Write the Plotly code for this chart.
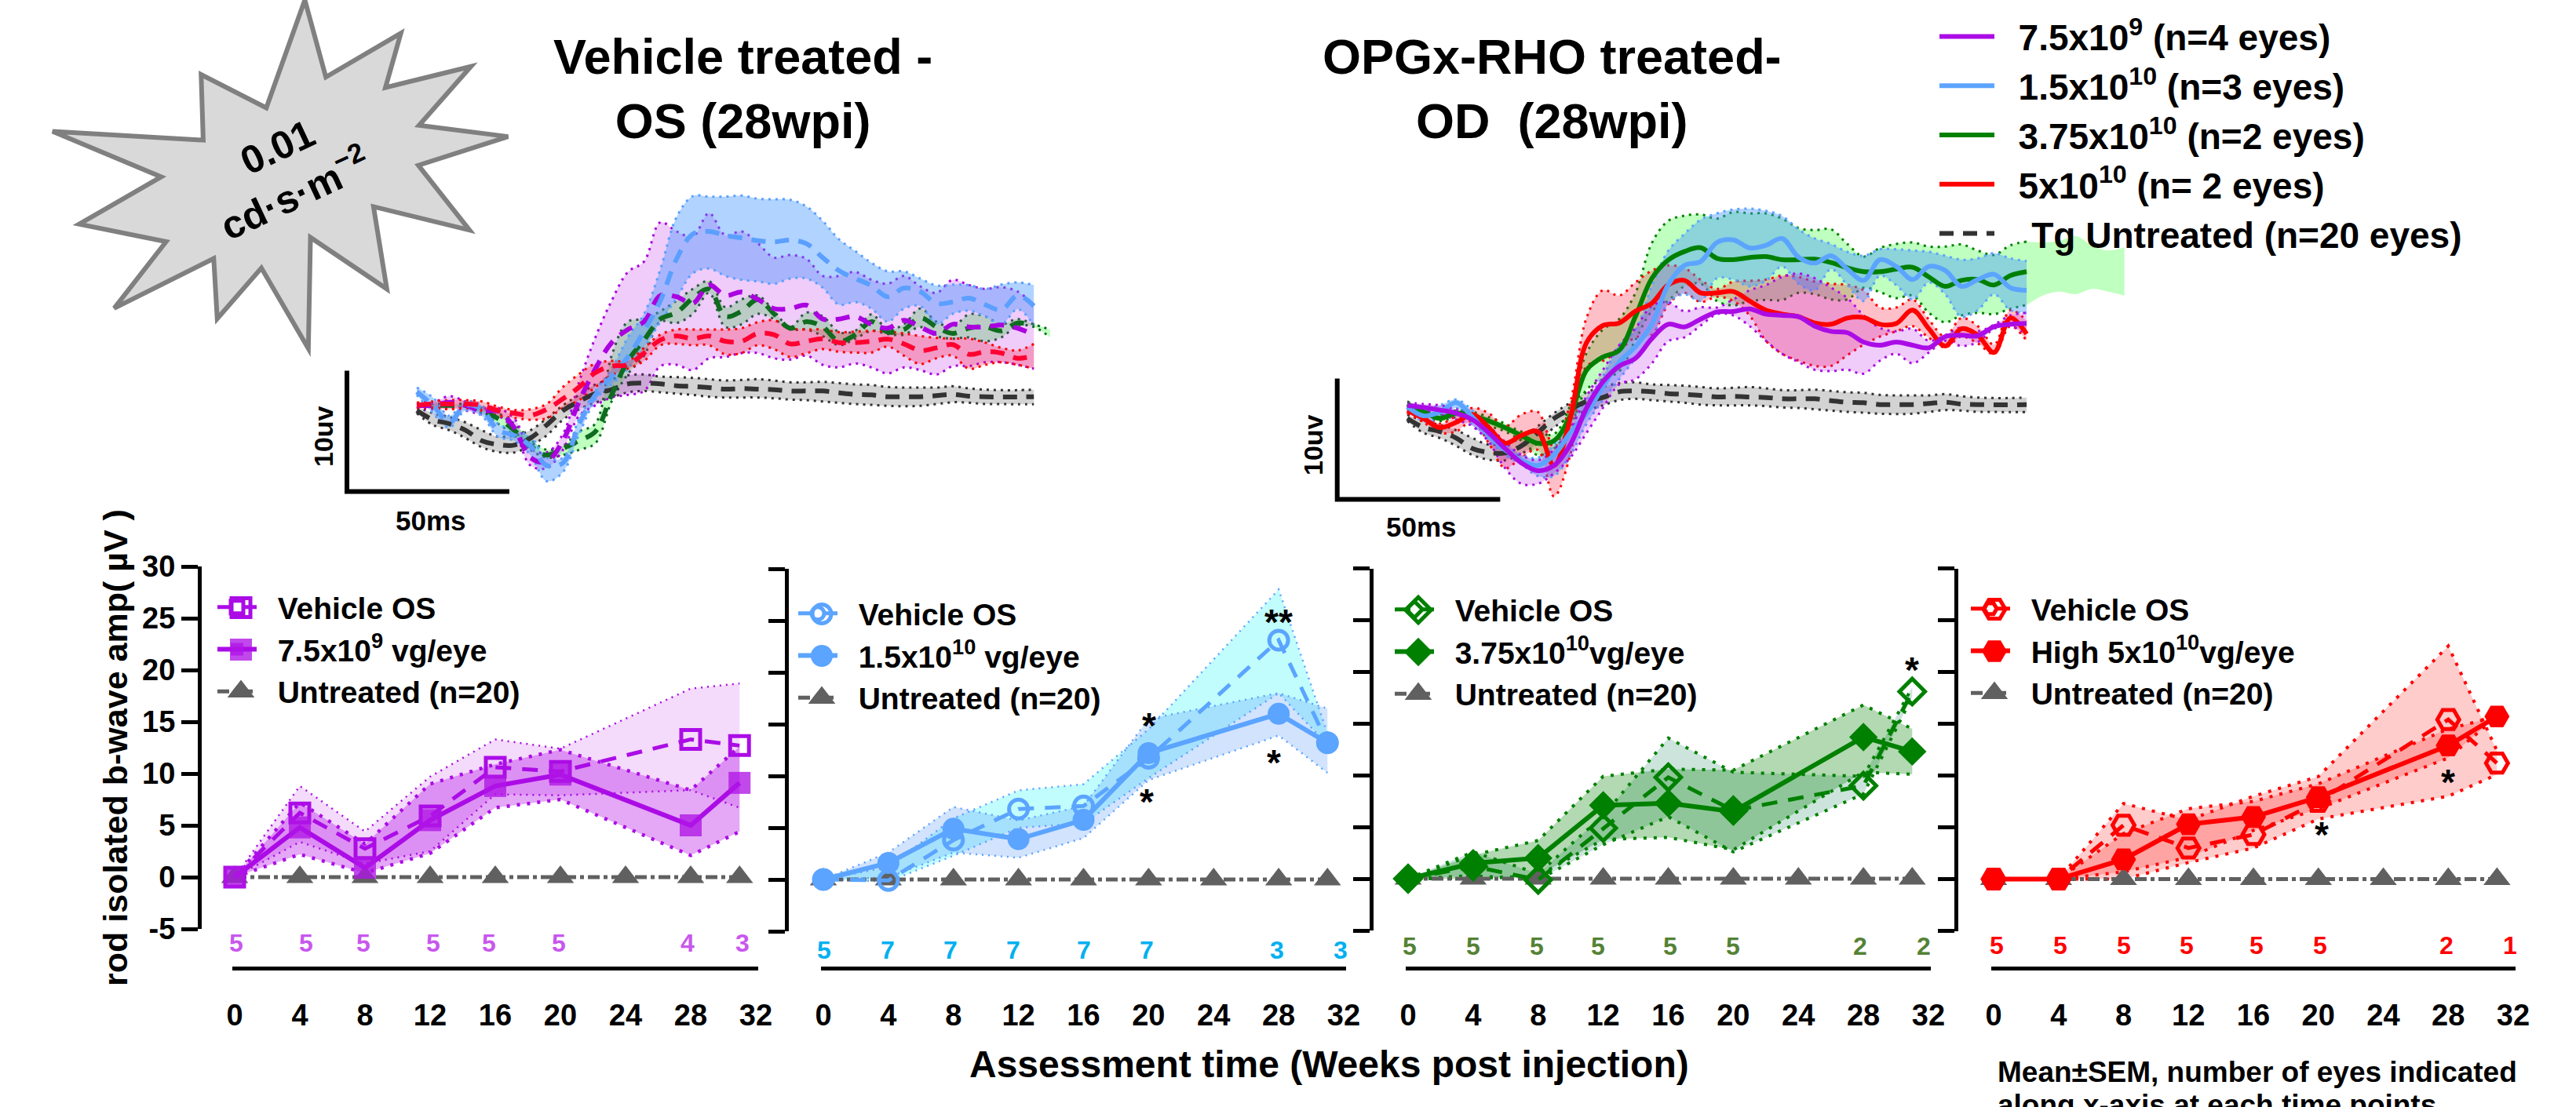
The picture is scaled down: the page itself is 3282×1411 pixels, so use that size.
import numpy as np
import plotly.graph_objects as go

W, H = 3282, 1411
FONT = "Liberation Sans"

# ---------- bottom panels: b-wave amplitude (uV) vs weeks ----------
WEEKS = [0, 4, 8, 12, 16, 20, 28, 31]
UNT_WEEKS = [0, 4, 8, 12, 16, 20, 24, 28, 31]
UNT_VALUES = [0, 0, 0, 0, 0, 0, 0, 0, 0]
X_TICKS = [0, 4, 8, 12, 16, 20, 24, 28, 32]
Y_TICKS = [-5, 0, 5, 10, 15, 20, 25, 30]
Y_TICKTEXT = ["-5", "0", "5", "10", "15", "20", "25", "30"]

P1_VEH = [0, 6.2, 2.75, 5.9, 10.6, 10.2, 13.3, 12.7]
P1_VEH_UP = [0, 8.8, 4.4, 9.7, 13.3, 12.4, 18.2, 18.7]
P1_VEH_LO = [0, 3.4, 1.3, 2.5, 8.0, 7.9, 8.4, 6.7]
P1_TRT = [0, 4.8, 0.9, 5.5, 8.8, 9.9, 5.0, 9.1]
P1_TRT_UP = [0, 7.2, 3.2, 9.0, 10.9, 12.3, 8.4, 12.6]
P1_TRT_LO = [0, 2.2, 0.4, 2.3, 6.7, 7.5, 2.1, 4.4]
P1_N = [5, 5, 5, 5, 5, 5, 4, 3]
P1_N_X = [0.1, 4.4, 7.9, 12.2, 15.6, 19.9, 27.8, 31.2]

P2_VEH = [0, -0.1, 3.8, 6.8, 7.1, 11.7, 23.1, 13.2]
P2_VEH_UP = [0, 1.2, 5.9, 8.6, 9.2, 14.5, 28.0, 14.1]
P2_VEH_LO = [0, -0.2, 2.3, 5.0, 5.4, 9.8, 18.0, 13.0]
P2_TRT = [0, 1.6, 4.9, 3.9, 5.75, 12.2, 16.0, 13.2]
P2_TRT_UP = [0, 2.6, 7.0, 5.7, 7.1, 15.5, 18.0, 16.5]
P2_TRT_LO = [0, 0.2, 2.6, 2.1, 4.0, 9.6, 13.9, 10.3]
P2_N = [5, 7, 7, 7, 7, 7, 3, 3]
P2_N_X = [0.07, 3.94, 7.8, 11.7, 16, 19.9, 27.9, 31.8]

P3_VEH = [0, 1.2, -0.1, 4.9, 9.8, 6.6, 9.0, 18.1]
P3_VEH_UP = [0, 2.6, 0.5, 6.1, 13.6, 10.3, 9.9, 18.5]
P3_VEH_LO = [0, 0.3, -0.1, 3.3, 6.0, 2.6, 8.2, 17.6]
P3_TRT = [0, 1.5, 2.0, 7.1, 7.3, 6.5, 13.7, 12.3]
P3_TRT_UP = [0, 2.3, 3.7, 9.9, 10.6, 10.5, 16.8, 14.5]
P3_TRT_LO = [0, 0.0, 0.3, 3.8, 4.0, 2.8, 10.3, 10.1]
P3_N = [5, 5, 5, 5, 5, 5, 2, 2]
P3_N_X = [0.1, 4, 7.9, 11.7, 16.1, 20, 27.8, 31.7]

P4_VEH = [0, 0, 5.2, 3.0, 4.3, 7.5, 15.4, 11.2]
P4_VEH_UP = [0, 0, 7.3, 5.7, 8.0, 9.9, 22.5, 12.4]
P4_VEH_LO = [0, 0, 0.0, 1.6, 3.0, 5.8, 8.0, 10.1]
P4_TRT = [0, 0, 1.9, 5.3, 6.0, 7.9, 12.9, 15.7]
P4_TRT_UP = [0, 0, 4.4, 6.8, 7.5, 9.2, 14.5, 15.7]
P4_TRT_LO = [0, 0, 0.7, 2.1, 4.7, 6.8, 11.7, 15.7]
P4_N = [5, 5, 5, 5, 5, 5, 2, 1]
P4_N_X = [0.2, 4.1, 8, 11.9, 16.2, 20.1, 27.9, 31.8]

P2_STARS = [(20.05, 15.7, "*"), (19.9, 8.3, "*"), (28.0, 25.7, "**"), (27.7, 12.1, "*")]
P3_STARS = [(31.0, 21.0, "*")]
P4_STARS = [(20.2, 5.1, "*"), (28.0, 10.2, "*")]

# ---------- top panels: ERG traces, amplitude digitised at 46.2 counts per uV, one sample every 5 ms ----------
COUNTS_PER_UV = 46.2
MS_STEP = 5

UNT_M = [-16,-51,-66,-91,-131,-146,-148,-121,-71,-16,19,49,64,86,89,86,79,76,72,66,68,66,64,59,59,59,52,46,44,37,37,37,41,46,39,37,36,36,37]
UNT_U = [-1,-26,-41,-61,-91,-116,-111,-91,-46,4,44,84,104,119,122,114,112,109,104,99,101,104,99,92,92,94,89,84,82,74,72,72,72,77,69,64,62,62,64]
UNT_L = [-26,-71,-91,-121,-156,-174,-176,-151,-111,-51,-11,14,34,54,59,54,49,44,37,34,34,34,31,26,24,19,14,9,6,2,1,2,9,16,14,9,9,8,8]

A_PUR_M = [4,4,16,4,-18,-18,-81,-196,-211,-131,19,144,244,294,324,424,419,394,464,424,437,409,374,374,387,334,334,344,314,299,329,304,279,314,304,304,311,299,274]
A_PUR_U = [9,14,39,19,-6,-6,-46,-161,-176,-106,94,264,404,514,554,704,669,649,739,654,669,624,569,579,564,499,499,514,484,469,499,459,434,484,464,449,456,439,389]
A_PUR_L = [-6,-11,-6,-16,-31,-36,-91,-226,-236,-166,-36,4,34,44,59,154,159,139,184,189,204,204,184,179,194,159,149,164,149,126,149,139,122,154,154,169,169,159,144]
A_BLU_M = [56,4,-61,4,-11,-91,-111,-151,-226,-216,-66,44,114,189,289,404,564,659,669,654,644,634,629,636,622,569,519,489,462,419,452,439,394,399,414,389,369,424,384]
A_BLU_U = [72,34,-36,19,4,-66,-91,-116,-196,-196,-46,59,144,264,354,524,724,804,802,802,806,794,792,790,764,709,639,594,549,516,516,489,462,466,464,449,466,474,464]
A_BLU_L = [44,-26,-81,-16,-36,-116,-131,-186,-286,-251,-106,24,84,144,224,324,414,509,527,499,484,478,469,489,489,454,389,399,374,324,374,384,314,354,366,344,314,372,309]
A_GRN_M = [4,4,4,4,-16,-46,-91,-151,-186,-161,-131,-96,44,174,254,334,359,414,449,344,364,409,354,299,324,304,249,274,324,284,294,339,304,279,299,304,289,319,309]
A_GRN_U = [12,9,9,9,-6,-26,-66,-126,-166,-151,-96,-66,194,324,334,364,404,449,479,379,409,424,364,304,359,344,284,289,352,294,314,374,324,304,352,344,314,334,314,294]
A_GRN_L = [-4,-4,-1,-4,-26,-66,-111,-166,-196,-186,-166,-141,19,124,194,324,319,354,434,304,314,354,334,294,294,269,234,259,289,277,274,304,269,259,264,249,264,309,304,264]
A_RED_M = [4,9,9,9,4,-16,-26,-34,-11,29,74,129,154,159,204,254,269,259,269,249,249,279,274,239,249,259,244,244,249,257,239,214,224,236,199,209,204,184,194]
A_RED_U = [14,19,24,24,19,-1,-14,-11,9,74,124,164,174,174,224,274,294,294,294,294,299,322,329,299,294,294,284,286,289,286,279,269,262,259,259,244,224,214,239]
A_RED_L = [-6,-6,-11,-6,-16,-36,-44,-51,-46,-6,24,74,119,144,174,234,239,234,234,199,204,234,219,189,204,219,209,206,206,229,194,162,184,194,144,159,169,159,144]

B_PUR_M = [34,26,16,4,-21,-71,-131,-186,-216,-196,-116,24,124,184,214,289,344,334,364,391,393,403,383,378,373,337,317,312,276,264,276,264,254,297,302,300,335,344,347]
B_PUR_U = [44,39,34,19,-6,-46,-106,-156,-176,-136,-56,69,169,264,329,414,429,394,409,408,439,474,494,525,538,520,484,444,378,330,317,327,281,302,332,317,342,378,388]
B_PUR_L = [24,14,-1,-21,-46,-106,-206,-266,-266,-226,-166,-71,24,114,134,194,279,294,339,383,378,337,281,231,200,170,165,170,155,205,231,195,236,281,261,276,327,337,307]
B_BLU_M = [29,-6,9,44,-11,-81,-136,-176,-196,-156,-71,4,104,199,259,344,494,569,584,657,667,636,646,672,601,578,606,555,512,591,565,515,565,550,489,515,535,484,474]
B_BLU_U = [39,19,34,56,14,-61,-116,-156,-166,-116,-6,54,144,264,324,489,624,689,744,768,783,786,778,758,707,672,651,621,606,631,631,626,621,606,591,596,616,596,586]
B_BLU_L = [19,-26,-16,24,-41,-101,-156,-191,-236,-236,-156,-36,54,134,214,289,424,459,434,520,515,489,510,565,499,474,555,494,433,530,494,439,504,459,373,398,459,398,388]
B_GRN_M = [39,9,-16,4,-6,-26,-51,-81,-111,-101,-6,169,219,244,374,519,589,622,637,596,591,599,603,591,591,593,580,560,545,545,555,562,525,489,512,515,494,530,545]
B_GRN_U = [49,19,-1,14,9,-11,-36,-66,-71,-76,34,234,324,364,464,654,739,759,764,748,773,768,768,748,712,704,707,651,603,636,651,657,641,641,649,626,609,646,660,657,662,682,646,626,639]
B_GRN_L = [29,-1,-26,-11,-21,-44,-66,-101,-156,-131,-46,94,134,164,284,394,434,489,499,433,416,433,437,437,464,459,439,439,484,467,444,454,388,352,378,388,383,403,418,454,469,459,479,469,454]
B_RED_M = [14,-16,-51,-31,-1,-51,-111,-81,-66,-196,-16,274,339,349,394,424,494,512,464,464,469,433,398,383,373,349,344,368,370,344,347,398,327,261,327,302,236,368,307]
B_RED_U = [24,-1,-36,-6,24,4,-46,-1,9,-126,44,369,474,454,504,549,569,559,514,479,507,510,515,530,525,507,499,494,474,408,408,439,362,297,368,337,266,398,357]
B_RED_L = [4,-31,-71,-66,-26,-111,-206,-166,-136,-314,-156,184,204,244,294,304,419,464,429,449,433,378,281,231,205,185,185,226,266,297,317,337,292,256,297,271,231,337,281]

SCALE_MS = 50
SCALE_UV = 10

STAR_PX = [435,465,572,550,672,598,725,597,670,533,552,443,440,373,310,305,163,237,113,230,75,290,287,380]
STAR_PY = [0,220,95,250,190,358,390,472,657,590,825,678,995,765,910,738,880,690,640,505,375,400,213,308]

# ---------- styles ----------
PURPLE, BLUE, GREEN, RED = "#AB0CE6", "#5BA4FF", "#008000", "#FF0000"
GREY = "#606060"
DARK = "#333333"
GAP = "\u00a0\u00a0"


def fx(p):
    return p / W


def fy(p):
    return 1 - p / H


fig = go.Figure()
annotations = []
layout_axes = {}


def ann(text, px, py, size, color="black", **kw):
    kw.setdefault("xanchor", "center")
    kw.setdefault("yanchor", "middle")
    annotations.append(dict(x=fx(px), y=fy(py), xref="paper", yref="paper", text=text, showarrow=False,
                            font=dict(family=FONT, size=size, color=color, weight=700), **kw))


def band(xa, ya, x, up, lo, fill, dot, width, shape="linear", dash="2px,7px"):
    line = dict(color=dot, width=width, dash=dash, shape=shape)
    fig.add_trace(go.Scatter(x=x, y=up, xaxis=xa, yaxis=ya, mode="lines", line=line, showlegend=False,
                             hoverinfo="skip", cliponaxis=False))
    fig.add_trace(go.Scatter(x=x, y=lo, xaxis=xa, yaxis=ya, mode="lines", line=line, fill="tonexty",
                             fillcolor=fill, showlegend=False, hoverinfo="skip", cliponaxis=False))


PANELS = [
    dict(i=1, axis_px=254, dom=(296, 966), ydom=(722, 1184), color=PURPLE, count="#C857EE",
         veh=(P1_VEH, P1_VEH_UP, P1_VEH_LO), trt=(P1_TRT, P1_TRT_UP, P1_TRT_LO), n=P1_N, nx=P1_N_X, ny=-6.4,
         vfill="rgba(176,0,230,0.14)", tfill="rgba(176,0,230,0.34)", vw=2.5, tw=4.5, vdash="2px,6px", tdash="4px,9px",
         vsym="square-open", tsym="square", vsize=24, tsize=28, tcolor="rgba(176,20,230,0.78)",
         legend_px=(272, 742), stars=[],
         names=("Vehicle OS", "7.5x10<sup>9</sup> vg/eye", "Untreated (n=20)")),
    dict(i=2, axis_px=1002, dom=(1046, 1715), ydom=(725, 1187), color=BLUE, count="#00B0F0",
         veh=(P2_VEH, P2_VEH_UP, P2_VEH_LO), trt=(P2_TRT, P2_TRT_UP, P2_TRT_LO), n=P2_N, nx=P2_N_X, ny=-6.8,
         vfill="rgba(110,250,250,0.42)", tfill="rgba(90,150,250,0.27)", vw=2.5, tw=2.5, vdash="2px,6px", tdash="2px,6px",
         vsym="circle-open", tsym="circle", vsize=24, tsize=28, tcolor=BLUE,
         legend_px=(1012, 750), stars=P2_STARS,
         names=("Vehicle OS", "1.5x10<sup>10</sup> vg/eye", "Untreated (n=20)")),
    dict(i=3, axis_px=1747, dom=(1791, 2460), ydom=(724.5, 1186), color=GREEN, count="#548235",
         veh=(P3_VEH, P3_VEH_UP, P3_VEH_LO), trt=(P3_TRT, P3_TRT_UP, P3_TRT_LO), n=P3_N, nx=P3_N_X, ny=-6.5,
         vfill="rgba(0,120,80,0.2)", tfill="rgba(0,128,0,0.3)", vw=4, tw=4, vdash="4px,9px", tdash="4px,9px",
         vsym="diamond-open", tsym="diamond", vsize=25, tsize=28, tcolor=GREEN,
         legend_px=(1772, 745), stars=P3_STARS,
         names=("Vehicle OS", "3.75x10<sup>10</sup>vg/eye", "Untreated (n=20)")),
    dict(i=4, axis_px=2492, dom=(2537, 3205), ydom=(724.5, 1186.5), color=RED, count="#FF0000",
         veh=(P4_VEH, P4_VEH_UP, P4_VEH_LO), trt=(P4_TRT, P4_TRT_UP, P4_TRT_LO), n=P4_N, nx=P4_N_X, ny=-6.4,
         vfill="rgba(255,0,0,0.2)", tfill="rgba(255,0,0,0.2)", vw=4, tw=4, vdash="4px,9px", tdash="4px,9px",
         vsym="hexagon2-open", tsym="hexagon2", vsize=28, tsize=32, tcolor=RED,
         legend_px=(2506, 744), stars=P4_STARS,
         names=("Vehicle OS", "High 5x10<sup>10</sup>vg/eye", "Untreated (n=20)")),
]

PX_PER_WEEK = 20.72
UNT_SIZE = 30
LEGEND_KEY_DX = 25
LEGEND_ROW_DY = (32.5, 86, 139.5)
for p in PANELS:
    i = p["i"]
    suffix = "" if i == 1 else str(i)
    xa, ya = f"x{suffix}", f"y{suffix}"
    lg = f"legend{suffix}"
    m = 3 / PX_PER_WEEK
    layout_axes[f"xaxis{suffix}"] = dict(
        domain=[fx(p["dom"][0]), fx(p["dom"][1])], range=[-m, 32 + m], anchor="free",
        position=fy(1234), showline=True, linecolor="black", linewidth=5, showgrid=False, zeroline=False,
        tickvals=X_TICKS, ticks="", ticklabelstandoff=24,
        tickfont=dict(family=FONT, size=38, color="black", weight=700))
    yax = dict(
        domain=[fy(p["ydom"][1]), fy(p["ydom"][0])], range=[-5, 30], anchor="free", position=fx(p["axis_px"]),
        showline=True, linecolor="black", linewidth=5, showgrid=False, zeroline=False,
        tickvals=Y_TICKS, ticktext=Y_TICKTEXT, ticks="outside", ticklen=21, tickwidth=5, tickcolor="black",
        showticklabels=i == 1, tickfont=dict(family=FONT, size=38, color="black", weight=700))
    if i == 1:
        yax["title"] = dict(text="rod isolated b-wave amp( \u00b5V )", standoff=4,
                            font=dict(family=FONT, size=43, color="black", weight=700))
    layout_axes[f"yaxis{suffix}"] = yax

    band(xa, ya, WEEKS, p["veh"][1], p["veh"][2], p["vfill"], p["color"], p["vw"], dash=p["vdash"])
    band(xa, ya, WEEKS, p["trt"][1], p["trt"][2], p["tfill"], p["color"], p["tw"], dash=p["tdash"])

    fig.add_trace(go.Scatter(x=UNT_WEEKS, y=UNT_VALUES, xaxis=xa, yaxis=ya, name=GAP + p["names"][2], legend=lg,
                             legendrank=3, mode="lines+markers", cliponaxis=False,
                             line=dict(color=GREY, width=5, dash="dashdot"),
                             marker=dict(symbol="triangle-up", size=UNT_SIZE, color=GREY)))
    veh_marker = dict(symbol=p["vsym"], size=p["vsize"], color=p["color"], line=dict(width=5, color=p["color"]))
    trt_marker = dict(symbol=p["tsym"], size=p["tsize"], color=p["tcolor"])
    fig.add_trace(go.Scatter(x=WEEKS, y=p["veh"][0], xaxis=xa, yaxis=ya, name=GAP + p["names"][0], legend=lg,
                             legendrank=1, mode="lines+markers", cliponaxis=False,
                             line=dict(color=p["color"], width=5, dash="20px,14px"), marker=veh_marker))
    fig.add_trace(go.Scatter(x=WEEKS, y=p["trt"][0], xaxis=xa, yaxis=ya, name=GAP + p["names"][1], legend=lg,
                             legendrank=2, mode="lines+markers", cliponaxis=False,
                             line=dict(color=p["color"], width=6), marker=trt_marker))

    layout_axes[lg] = dict(x=fx(p["legend_px"][0]), y=fy(p["legend_px"][1]), xanchor="left", yanchor="top",
                           bgcolor="rgba(0,0,0,0)", itemwidth=50, traceorder="normal",
                           font=dict(family=FONT, size=39, color="black", weight=700))

    # the legend caps its marker size, so the full-size keys are drawn over its samples
    key_x = (p["legend_px"][0] + LEGEND_KEY_DX + 10 - p["dom"][0]) / PX_PER_WEEK - m
    for dy, marker in zip(LEGEND_ROW_DY, (veh_marker, trt_marker,
                                          dict(symbol="triangle-up", size=UNT_SIZE, color=GREY))):
        key_py = p["legend_px"][1] + dy
        key_y = 30 - (key_py - p["ydom"][0]) / (p["ydom"][1] - p["ydom"][0]) * 35
        fig.add_trace(go.Scatter(x=[key_x], y=[key_y], xaxis=xa, yaxis=ya, mode="markers", marker=marker,
                                 showlegend=False, hoverinfo="skip", cliponaxis=False))

    for n, nx in zip(p["n"], p["nx"]):
        annotations.append(dict(x=nx, y=(p["ny"] + 5) / 35, xref=xa, yref=f"{ya} domain", text=str(n),
                                showarrow=False, xanchor="center", yanchor="middle",
                                font=dict(family=FONT, size=32, color=p["count"], weight=700)))
    for sx, sy, st in p["stars"]:
        annotations.append(dict(x=sx, y=sy, xref=xa, yref=ya, text=st, showarrow=False, yshift=-11,
                                font=dict(family=FONT, size=46, color="black", weight=700)))


def erg(vals):
    return np.array(vals) / COUNTS_PER_UV


def times(vals):
    return np.arange(len(vals)) * MS_STEP


FILLS = dict(unt="rgba(110,110,110,0.3)", pur="rgba(176,0,230,0.2)", blu="rgba(70,150,255,0.42)",
             grn="rgba(0,255,0,0.25)", red="rgba(255,0,40,0.25)")

# top-left panel (dashed means)
layout_axes["xaxis5"] = dict(domain=[fx(420), fx(1345)], range=[(420 - 531) / 4.138, (1345 - 531) / 4.138], visible=False, anchor="y5")
layout_axes["yaxis5"] = dict(domain=[fy(640), fy(240)], range=[(518 - 640) / 15.4, (518 - 240) / 15.4], visible=False, anchor="x5")
# top-right panel (solid means)
layout_axes["xaxis6"] = dict(domain=[fx(1680), fx(2720)], range=[(1680 - 1793) / 4.153, (2720 - 1793) / 4.153], visible=False, anchor="y6")
layout_axes["yaxis6"] = dict(domain=[fy(650), fy(240)], range=[(528 - 650) / 15.4, (528 - 240) / 15.4], visible=False, anchor="x6")

for xa, ya, sets in [
    ("x5", "y5", [("unt", UNT_U, UNT_L, "#333333"),
                  ("grn", A_GRN_U, A_GRN_L, "#0F6B1F"),
                  ("pur", A_PUR_U, A_PUR_L, "#AB00E0"),
                  ("blu", A_BLU_U, A_BLU_L, "#5B9FFF"),
                  ("red", A_RED_U, A_RED_L, "#FF0000")]),
    ("x6", "y6", [("unt", UNT_U, UNT_L, "#333333"),
                  ("grn", B_GRN_U, B_GRN_L, GREEN),
                  ("red", B_RED_U, B_RED_L, RED),
                  ("blu", B_BLU_U, B_BLU_L, BLUE),
                  ("pur", B_PUR_U, B_PUR_L, PURPLE)]),
]:
    for key, up, lo, dotc in sets:
        if len(up) == 45:  # the green band of the right panel runs past the end of its mean trace
            t = times(up)
            band(xa, ya, t[:39], erg(up[:39]), erg(lo[:39]), FILLS[key], dotc, 3, shape="spline", dash="3px,6px")
            fig.add_trace(go.Scatter(x=t[38:], y=erg(up[38:]), xaxis=xa, yaxis=ya, mode="lines",
                                     line=dict(width=0, shape="spline"), showlegend=False, hoverinfo="skip"))
            fig.add_trace(go.Scatter(x=t[38:], y=erg(lo[38:]), xaxis=xa, yaxis=ya, mode="lines",
                                     line=dict(width=0, shape="spline"), fill="tonexty", fillcolor=FILLS[key],
                                     showlegend=False, hoverinfo="skip"))
        else:
            band(xa, ya, times(up), erg(up), erg(lo), FILLS[key], dotc, 3, shape="spline", dash="3px,6px")
    bar_t = [-21.5, -21.5, -21.5 + SCALE_MS]
    bar_v = [-7.05 + SCALE_UV, -7.05, -7.05]
    fig.add_trace(go.Scatter(x=bar_t, y=bar_v, xaxis=xa, yaxis=ya, mode="lines", cliponaxis=False,
                             line=dict(color="black", width=6), showlegend=False, hoverinfo="skip"))

for mean, col in [(UNT_M, DARK), (A_GRN_M, "#0F6B1F"), (A_PUR_M, "#AB00E0"), (A_BLU_M, "#5B9FFF"), (A_RED_M, "#FF0030")]:
    fig.add_trace(go.Scatter(x=times(mean), y=erg(mean), xaxis="x5", yaxis="y5", mode="lines", showlegend=False,
                             hoverinfo="skip", line=dict(color=col, width=6, dash="18px,12px", shape="spline")))

for mean, col, lname, rank, dash in [
    (UNT_M, DARK, GAP + "\u00a0\u200aTg Untreated (n=20 eyes)", 5, "18px,12px"),
    (B_GRN_M, GREEN, GAP + "3.75x10<sup>10</sup> (n=2 eyes)", 3, None),
    (B_RED_M, RED, GAP + "5x10<sup>10</sup> (n= 2 eyes)", 4, None),
    (B_BLU_M, BLUE, GAP + "1.5x10<sup>10</sup> (n=3 eyes)", 2, None),
    (B_PUR_M, PURPLE, GAP + "7.5x10<sup>9</sup> (n=4 eyes)", 1, None),
]:
    fig.add_trace(go.Scatter(x=times(mean), y=erg(mean), xaxis="x6", yaxis="y6", mode="lines", name=lname,
                             legend="legend5", legendrank=rank, hoverinfo="skip",
                             line=dict(color=col, width=6, dash=dash, shape="spline")))

layout_axes["legend5"] = dict(x=fx(2466), y=fy(10), xanchor="left", yanchor="top", bgcolor="rgba(0,0,0,0)",
                              itemwidth=70, traceorder="normal",
                              font=dict(family=FONT, size=46, color="black", weight=700))

# ---------- text ----------
ann("Vehicle treated -<br>OS (28wpi)", 947, 113, 63)
ann("OPGx-RHO treated-<br>OD\u00a0\u00a0(28wpi)", 1978, 113, 63)
ann("0.01", 353, 188, 50, textangle=-25)
ann("cd\u00b7s\u00b7m<sup>\u22122</sup>", 375, 245, 50, textangle=-25)
ann("10uv", 412, 556, 34, textangle=-90)
ann("50ms", 549, 663, 35)
ann("10uv", 1673, 567, 34, textangle=-90)
ann("50ms", 1811, 671, 35)
ann("Assessment time (Weeks post injection)", 1694, 1356, 48)
ann("Mean\u00b1SEM, number of eyes indicated", 2543, 1366, 37, xanchor="left")
ann("along x-axis at each time points", 2543, 1408, 37, xanchor="left")

# ---------- starburst ----------
star_x = np.array(STAR_PX) / 1.12
star_y = np.array(STAR_PY) / 2.24
path = "M " + " L ".join(f"{fx(a):.5f} {fy(b):.5f}" for a, b in zip(star_x, star_y)) + " Z"

fig.update_layout(
    width=W, height=H, margin=dict(l=0, r=0, t=0, b=0, autoexpand=False), paper_bgcolor="white",
    plot_bgcolor="rgba(0,0,0,0)",
    font=dict(family=FONT, color="black"), annotations=annotations, showlegend=True,
    shapes=[dict(type="path", path=path, xref="paper", yref="paper", fillcolor="#D9D9D9",
                 line=dict(color="#808080", width=6), layer="below")],
    **layout_axes)

fig.write_html("out.html", post_script="document.body.style.margin='0';", config={"displayModeBar": False})
